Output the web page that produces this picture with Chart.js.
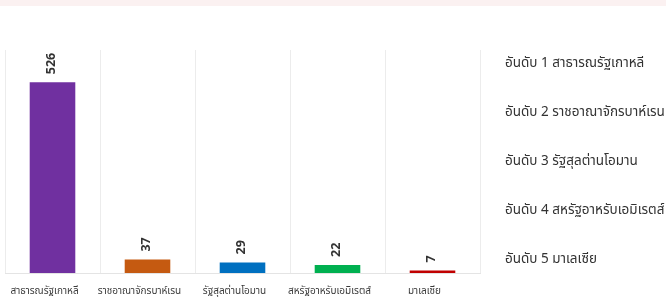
<!DOCTYPE html>
<html>
<head>
<meta charset="utf-8">
<script src="https://cdn.jsdelivr.net/npm/chart.js@4.4.1/dist/chart.umd.min.js"></script>
<style>
  html, body { margin: 0; padding: 0; }
  body { width: 666px; height: 299px; overflow: hidden;
         background: linear-gradient(#fbf1f1 0, #fbf1f1 6px, #ffffff 6px); }
  #wrap { position: relative; width: 666px; height: 299px; }
</style>
</head>
<body>
<div id="wrap"><canvas id="rankChart"></canvas></div>
<script>
// ประเทศ (แกน X)
const countries = ['สาธารณรัฐเกาหลี', 'ราชอาณาจักรบาห์เรน', 'รัฐสุลต่านโอมาน', 'สหรัฐอาหรับเอมิเรตส์', 'มาเลเซีย'];
// จำนวน
const counts = [526, 37, 29, 22, 7];
// สีแท่ง
const barColors = ['#7030a0', '#c55a11', '#0070c0', '#00b050', '#c00000'];
// ข้อความด้านขวา
const rankLabels = [
  'อันดับ 1 สาธารณรัฐเกาหลี',
  'อันดับ 2 ราชอาณาจักรบาห์เรน',
  'อันดับ 3 รัฐสุลต่านโอมาน',
  'อันดับ 4 สหรัฐอาหรับเอมิเรตส์',
  'อันดับ 5 มาเลเซีย'
];

const fontFamily = "'Noto Sans Thai', 'Noto Sans', Tahoma, sans-serif";

// ตัวเลขบนแท่ง (หมุน -90 องศา)
const valueLabels = {
  id: 'valueLabels',
  afterDatasetsDraw(chart) {
    const ctx = chart.ctx;
    const meta = chart.getDatasetMeta(0);
    ctx.save();
    ctx.font = 'bold 12.5px ' + fontFamily;
    ctx.fillStyle = '#333333';
    ctx.textAlign = 'left';
    ctx.textBaseline = 'middle';
    meta.data.forEach((bar, i) => {
      ctx.save();
      ctx.translate(bar.x, bar.y - 8);
      ctx.rotate(-Math.PI / 2);
      ctx.fillText(String(counts[i]), 0, 0);
      ctx.restore();
    });
    ctx.restore();
  }
};

// รายการอันดับทางขวา
const rankList = {
  id: 'rankList',
  afterDraw(chart) {
    const ctx = chart.ctx;
    const x = chart.chartArea.right + 25;
    ctx.save();
    ctx.font = '13.5px ' + fontFamily;
    ctx.fillStyle = '#333333';
    ctx.textAlign = 'left';
    ctx.textBaseline = 'middle';
    rankLabels.forEach((t, i) => {
      ctx.fillText(t, x, 64 + i * 49);
    });
    ctx.restore();
  }
};

new Chart(document.getElementById('rankChart'), {
  type: 'bar',
  data: {
    labels: countries,
    datasets: [{
      data: counts,
      backgroundColor: barColors,
      borderWidth: 0,
      categoryPercentage: 1,
      barPercentage: 0.48
    }]
  },
  options: {
    responsive: true,
    maintainAspectRatio: false,
    animation: false,
    layout: { padding: { left: 5, right: 186, top: 50, bottom: 0 } },
    plugins: {
      legend: { display: false },
      tooltip: { enabled: false }
    },
    scales: {
      x: {
        afterFit(scale) { scale.height = 26; },
        grid: { display: true, offset: true, color: '#ececec', drawTicks: false },
        border: { display: true, color: '#e4e4e4' },
        ticks: {
          color: '#3a3a3a',
          font: { size: 10, family: fontFamily },
          padding: 13,
          maxRotation: 0,
          autoSkip: false,
          labelOffset: -8
        }
      },
      y: {
        display: false,
        min: 0,
        max: 615
      }
    }
  },
  plugins: [valueLabels, rankList]
});
</script>
</body>
</html>
